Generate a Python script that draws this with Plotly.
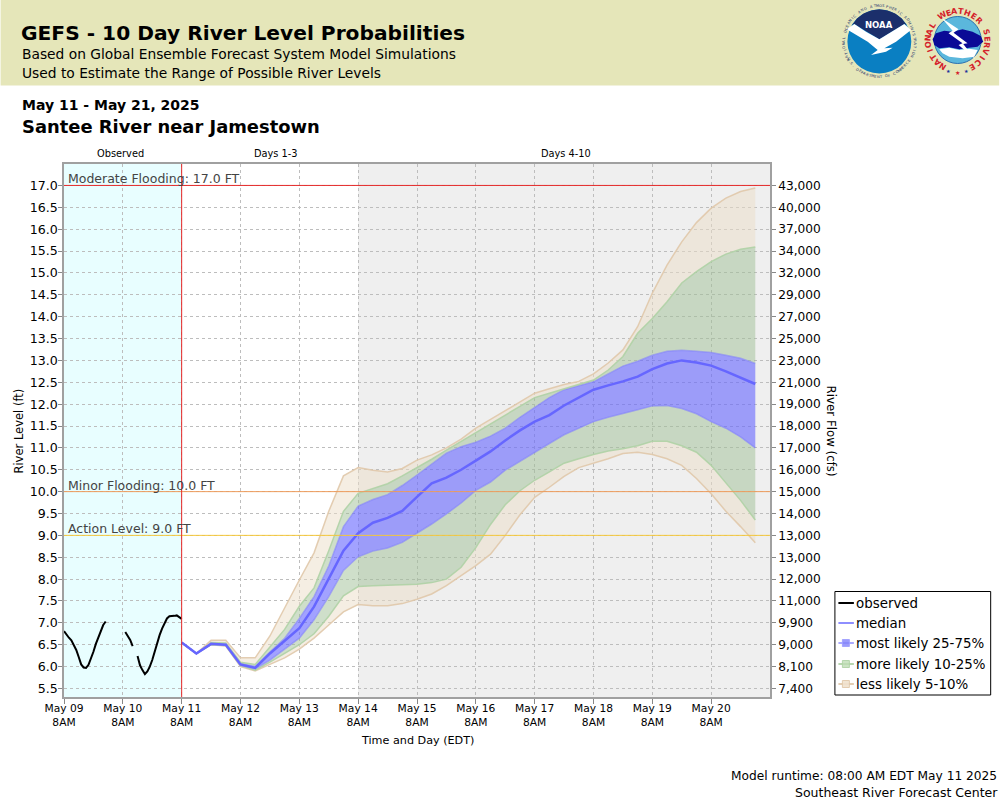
import math
import pandas as pd
import plotly.graph_objects as go

# forecast values every 6 hours from May 11 8AM (river level, ft)
forecast_start = "2025-05-11 08:00"
q05 = [6.55, 6.30, 6.50, 6.47, 6.00, 5.90, 6.05, 6.20, 6.40, 6.65, 6.95, 7.25, 7.42, 7.39, 7.39, 7.44, 7.54, 7.66, 7.85, 8.07,
       8.31, 8.57, 9.00, 9.47, 9.87, 10.10, 10.35, 10.55, 10.65, 10.75, 10.87, 10.90, 10.85, 10.75, 10.60, 10.30, 9.95, 9.55, 9.20, 8.83]
q10 = [6.55, 6.30, 6.50, 6.48, 6.02, 5.92, 6.10, 6.30, 6.50, 6.75, 7.15, 7.62, 7.83, 7.85, 7.86, 7.87, 7.88, 7.92, 8.00, 8.27,
       8.72, 9.25, 9.70, 10.02, 10.26, 10.45, 10.65, 10.75, 10.85, 10.93, 10.98, 11.05, 11.15, 11.15, 11.05, 10.90, 10.60, 10.20, 9.80, 9.35]
q25 = [6.55, 6.30, 6.51, 6.49, 6.03, 5.95, 6.15, 6.40, 6.65, 7.07, 7.60, 8.20, 8.51, 8.64, 8.71, 8.84, 9.05, 9.26, 9.49, 9.74,
       10.03, 10.22, 10.49, 10.70, 10.90, 11.10, 11.30, 11.45, 11.60, 11.70, 11.78, 11.87, 11.96, 11.97, 11.90, 11.78, 11.60, 11.45, 11.25, 11.00]
median = [6.55, 6.30, 6.52, 6.50, 6.05, 5.97, 6.30, 6.60, 6.88, 7.37, 8.00, 8.65, 9.05, 9.29, 9.40, 9.56, 9.88, 10.19, 10.32, 10.50,
          10.71, 10.92, 11.17, 11.40, 11.60, 11.75, 11.97, 12.15, 12.33, 12.43, 12.52, 12.63, 12.80, 12.93, 13.00, 12.95, 12.88, 12.75, 12.60, 12.46]
q75 = [6.55, 6.30, 6.53, 6.51, 6.07, 6.00, 6.33, 6.65, 7.10, 7.60, 8.30, 9.20, 9.67, 9.82, 9.93, 10.14, 10.38, 10.64, 10.88, 11.03,
       11.13, 11.27, 11.45, 11.70, 11.93, 12.15, 12.33, 12.42, 12.51, 12.69, 12.87, 12.98, 13.12, 13.21, 13.23, 13.21, 13.18, 13.12, 13.05, 12.93]
q90 = [6.55, 6.30, 6.55, 6.54, 6.10, 6.05, 6.45, 6.85, 7.38, 7.80, 8.65, 9.55, 9.96, 10.07, 10.18, 10.36, 10.55, 10.74, 10.95, 11.15,
       11.35, 11.55, 11.75, 11.95, 12.15, 12.25, 12.35, 12.45, 12.55, 12.78, 13.09, 13.62, 13.96, 14.34, 14.77, 15.03, 15.26, 15.43, 15.54, 15.59]
q95 = [6.55, 6.30, 6.60, 6.60, 6.20, 6.20, 6.70, 7.35, 7.98, 8.60, 9.55, 10.36, 10.55, 10.49, 10.45, 10.53, 10.72, 10.84, 11.00, 11.20,
       11.45, 11.65, 11.85, 12.05, 12.25, 12.35, 12.45, 12.52, 12.69, 12.94, 13.24, 13.77, 14.54, 15.18, 15.71, 16.15, 16.48, 16.71, 16.86, 16.94]

# observed stage, hours after May 09 8AM, None marks a gap
obs_hours = [0, 1, 2, 3, 4, 5, 6, 7, 8, 9, 10, 11, 12, 13, 14, 15, 16, 17, 18,
             25, 26, 27, 28, 29,
             30, 31, 32, 33, 34, 35, 36, 37, 38, 39, 40, 41, 42, 43, 44, 45, 46, 47, 48]
obs_level = [6.81, 6.73, 6.66, 6.60, 6.50, 6.38, 6.22, 6.05, 5.98, 5.97, 6.04, 6.18, 6.34, 6.52, 6.68, 6.83, 6.95, 7.03, None,
             6.79, 6.70, 6.61, 6.47, None,
             6.24, 6.03, 5.92, 5.83, 5.89, 6.00, 6.15, 6.35, 6.56, 6.72, 6.87, 7.00, 7.10, 7.15, 7.15, 7.16, 7.17, 7.13, 7.09]

stage_ticks = [5.5, 6.0, 6.5, 7.0, 7.5, 8.0, 8.5, 9.0, 9.5, 10.0, 10.5, 11.0, 11.5, 12.0, 12.5, 13.0, 13.5, 14.0, 14.5, 15.0, 15.5, 16.0, 16.5, 17.0]
flow_labels = ["7,400", "8,100", "9,000", "9,900", "11,000", "12,000", "13,000", "13,000", "14,000", "15,000", "16,000", "17,000", "18,000",
               "19,000", "21,000", "23,000", "25,000", "27,000", "29,000", "32,000", "34,000", "37,000", "40,000", "43,000"]

day_ticks = ["2025-05-%02d 08:00" % d for d in range(9, 21)]
day_labels = ["May %02d<br>8AM" % d for d in range(9, 21)]

W, H = 1000, 800
L, R, T, B = 63.5, 770.5, 164, 697

TAN = "rgba(236,222,200,0.5)"
GREEN = "rgba(160,192,150,0.5)"
BLUE = "rgba(100,100,255,0.6)"
TAN_EDGE = "rgba(224,200,170,0.9)"
GREEN_EDGE = "rgba(175,210,165,0.9)"
BLUE_EDGE = "rgba(130,130,250,0.6)"
FONT = "DejaVu Sans"


def px(x):
    return (x - L) / (R - L)


def py(y):
    return (B - y) / (B - T)


def poly(points):
    return "M " + " L ".join("%.4f %.4f" % (px(x), py(y)) for x, y in points) + " Z"


def circle(fig, cx, cy, r, color, line=None, width=0):
    fig.add_shape(type="circle", xref="paper", yref="paper", x0=px(cx - r), x1=px(cx + r), y0=py(cy + r), y1=py(cy - r),
                  fillcolor=color, line=dict(color=line or color, width=width), layer="above")


def blob(fig, points, color):
    fig.add_shape(type="path", xref="paper", yref="paper", path=poly(points), fillcolor=color, line_width=0, layer="above")


def label(fig, x, y, text, size, color="black", bold=False, anchor="left", angle=0):
    fig.add_annotation(xref="paper", yref="paper", x=px(x), y=py(y), text="<b>%s</b>" % text if bold else text, showarrow=False,
                       xanchor=anchor, yanchor="middle", textangle=angle, font=dict(family=FONT, size=size, color=color),
                       borderpad=0, borderwidth=0)


def ring_text(fig, cx, cy, r, text, start, step, size, color, bold=False):
    # one rotated letter at a time around a logo, angles clockwise from 12 o'clock
    for i, ch in enumerate(text):
        a = start + i * step
        if ch == " ":
            continue
        rad = math.radians(a)
        flip = 180 if step < 0 else 0
        label(fig, cx + r * math.sin(rad), cy - r * math.cos(rad), ch, size, color, bold, "center", a + flip)


def noaa_z(x, y):
    return 830 + x / 3, y / 3


def nws_z(x, y):
    return 920 + x / 3, y / 3


fig = go.Figure()

# forecast bands, each one fills down to the previous curve
times = pd.date_range(forecast_start, periods=len(median), freq="6h")
bands = [(q05, None, TAN_EDGE), (q10, TAN, GREEN_EDGE), (q25, GREEN, BLUE_EDGE),
         (q75, BLUE, BLUE_EDGE), (q90, GREEN, GREEN_EDGE), (q95, TAN, TAN_EDGE)]
for values, fill, edge in bands:
    fig.add_trace(go.Scatter(x=times, y=values, mode="lines", line=dict(color=edge, width=1.5),
                             fill="tonexty" if fill else None, fillcolor=fill, showlegend=False, hoverinfo="skip"))

obs_times = [pd.Timestamp("2025-05-09 08:00") + pd.Timedelta(hours=h) for h in obs_hours]
fig.add_trace(go.Scatter(x=obs_times, y=obs_level, name="observed", mode="lines", line=dict(color="black", width=2), showlegend=False))
fig.add_trace(go.Scatter(x=times, y=median, name="median", mode="lines", line=dict(color="#6666FF", width=2.5), showlegend=False))

# right hand flow axis needs a trace to show up
fig.add_trace(go.Scatter(x=[times[0]], y=[median[0]], yaxis="y2", mode="lines", showlegend=False, hoverinfo="skip",
                         line=dict(width=0)))

# background periods
fig.add_shape(type="rect", xref="x", yref="paper", x0="2025-05-09 08:00", x1="2025-05-11 08:00", y0=0, y1=1,
              fillcolor="#E8FEFF", line_width=0, layer="below")
fig.add_shape(type="rect", xref="x", yref="paper", x0="2025-05-14 08:00", x1="2025-05-21 08:00", y0=0, y1=1,
              fillcolor="#EFEFEF", line_width=0, layer="below")

# flood levels
for level, color, text in [(17.0, "#E62828", "Moderate Flooding: 17.0 FT"), (10.0, "#EE9C5C", "Minor Flooding: 10.0 FT"),
                           (9.0, "#F5C83C", "Action Level: 9.0 FT")]:
    fig.add_shape(type="line", xref="paper", yref="y", x0=0, x1=1, y0=level, y1=level, line=dict(color=color, width=1), layer="above")
    fig.add_annotation(xref="x", yref="y", x="2025-05-09 09:00", y=level, text=text, showarrow=False, xanchor="left", yanchor="bottom",
                       font=dict(family=FONT, size=12.5, color="#444444"), yshift=-3)
fig.add_shape(type="line", xref="x", yref="paper", x0="2025-05-11 08:00", x1="2025-05-11 08:00", y0=0, y1=1,
              line=dict(color="#E62828", width=1), layer="above")

# header
fig.add_shape(type="rect", xref="paper", yref="paper", x0=px(0), x1=px(W), y0=py(85.5), y1=py(0), fillcolor="#E5E6B9", line_width=0, layer="below")
label(fig, 20, 33, "GEFS - 10 Day River Level Probabilities", 20.2, bold=True)
label(fig, 21, 54, "Based on Global Ensemble Forecast System Model Simulations", 13.8)
label(fig, 21, 73, "Used to Estimate the Range of Possible River Levels", 13.8)
label(fig, 21, 105, "May 11 - May 21, 2025", 14, bold=True)
label(fig, 21, 126, "Santee River near Jamestown", 17.9, bold=True)

label(fig, 120, 154, "Observed", 9.8, anchor="center")
label(fig, 276, 154, "Days 1-3", 9.8, anchor="center")
label(fig, 566, 154, "Days 4-10", 9.8, anchor="center")

label(fig, 18, 431, "River Level (ft)", 11.5, anchor="center", angle=-90)
label(fig, 832, 431, "River Flow (cfs)", 11.8, anchor="center", angle=90)
label(fig, 417, 740, "Time and Day (EDT)", 11.2, anchor="center")
label(fig, 998, 776, "Model runtime: 08:00 AM EDT May 11 2025", 12.2, anchor="right")
label(fig, 999, 792, "Southeast River Forecast Center", 12.5, anchor="right")

# legend box, drawn by hand so it fits the narrow right margin
fig.add_shape(type="rect", xref="paper", yref="paper", x0=px(835.5), x1=px(991.5), y0=py(695), y1=py(591.5), fillcolor="white",
              line=dict(color="black", width=1), layer="above")
legend_rows = [("observed", 603, "black", None), ("median", 623, "rgba(130,130,255,0.9)", None),
               ("most likely 25-75%", 643, "rgba(160,160,255,0.9)", "rgba(130,130,250,0.8)"),
               ("more likely 10-25%", 664, "rgba(175,210,165,0.9)", "rgba(190,220,180,0.8)"),
               ("less likely 5-10%", 684, "rgba(224,200,170,0.9)", "rgba(240,225,205,0.9)")]
for name, y, color, box in legend_rows:
    fig.add_shape(type="line", xref="paper", yref="paper", x0=px(839), x1=px(854.5), y0=py(y), y1=py(y), line=dict(color=color, width=2), layer="above")
    if box:
        fig.add_shape(type="rect", xref="paper", yref="paper", x0=px(843), x1=px(850), y0=py(y + 3.5), y1=py(y - 3.5), fillcolor=box,
                      line=dict(color=color, width=1), layer="above")
    label(fig, 857, y, name, 13.4)

# NOAA logo
circle(fig, 880, 41.5, 32, "#0A7FC2")
arc = [noaa_z(150 + 95 * math.cos(math.radians(a)), 123 - 95 * math.sin(math.radians(a))) for a in range(150, 29, -15)]
blob(fig, arc + [noaa_z(225, 72), noaa_z(150, 118), noaa_z(75, 72)], "#1B2F6B")
bird = [(52, 88), (75, 72), (110, 95), (150, 118), (225, 72), (245, 90), (200, 125), (165, 145), (190, 143), (170, 155), (125, 165), (145, 150), (115, 125)]
blob(fig, [noaa_z(*p) for p in bird], "white")
label(fig, 880, 25, "NOAA", 8.5, "white", True, "center")
ring_text(fig, 880, 41.5, 35.5, "NATIONAL OCEANIC AND ATMOSPHERIC ADMINISTRATION", -120, 5.1, 3.6, "#1B2F6B")
ring_text(fig, 880, 41.5, 35.5, "U.S. DEPARTMENT OF COMMERCE", 240, -4.5, 3.6, "#1B2F6B")

# NWS logo
circle(fig, 958.5, 40, 23.5, "#5BB7DC", "#2A6FB0", 1)
cloud = [(40, 118), (50, 100), (75, 92), (100, 95), (130, 88), (160, 95), (185, 108), (192, 125), (175, 140), (150, 143), (120, 148), (90, 142), (60, 145), (45, 135)]
blob(fig, [nws_z(*p) for p in cloud], "#0A0A96")
strip = [(60, 148), (90, 143), (120, 150), (150, 146), (175, 150), (165, 170), (130, 175), (90, 170), (70, 160)]
blob(fig, [nws_z(*p) for p in strip], "white")
bolt = [(68, 55), (118, 88), (103, 98), (145, 130), (132, 132), (168, 178), (118, 135), (130, 130), (88, 100), (100, 92)]
blob(fig, [nws_z(*p) for p in bolt], "white")
ring_text(fig, 958.5, 41, 29.5, "NATIONAL WEATHER SERVICE", -149, 13, 8, "#D4202A", True)
label(fig, 958, 72, "★", 6, "#D4202A", anchor="center")
label(fig, 949, 71, "★", 5, "#1B2F9B", anchor="center")
label(fig, 967, 71, "★", 5, "#1B2F9B", anchor="center")

fig.update_layout(
    width=W, height=H, margin=dict(l=L, r=W - R, t=T, b=H - B, pad=0, autoexpand=False), paper_bgcolor="white", plot_bgcolor="white",
    font=dict(family=FONT, size=13, color="black"), hovermode=False, showlegend=False,
    xaxis=dict(type="date", range=["2025-05-09 08:00", "2025-05-21 08:00"], tickvals=day_ticks, ticktext=day_labels, tickfont=dict(size=10.7),
               ticks="outside", ticklen=5, tickcolor="#888888", showgrid=True, gridcolor="#BDBDBD", griddash="3px,3px", gridwidth=1,
               showline=True, linecolor="#A0A0A0", linewidth=1.5, mirror=True, zeroline=False, tickangle=0, ticklabelstandoff=-5),
    yaxis=dict(range=[5.305, 17.49], tickvals=stage_ticks, ticktext=["%.1f" % v for v in stage_ticks], tickfont=dict(size=12.6),
               ticks="outside", ticklen=4, tickcolor="#888888", showgrid=True, gridcolor="#BDBDBD", griddash="3px,3px", gridwidth=1,
               showline=True, linecolor="#A0A0A0", linewidth=1.5, zeroline=False, ticklabelstandoff=-2),
    yaxis2=dict(range=[5.305, 17.49], overlaying="y", side="right", tickvals=stage_ticks, ticktext=flow_labels, tickfont=dict(size=12.2),
                ticks="outside", ticklen=4, tickcolor="#888888", showgrid=False, showline=True, linecolor="#A0A0A0", linewidth=1.5, zeroline=False),
)

fig.write_html("out.html", config={"displayModeBar": False}, post_script="document.body.style.margin='0';")
